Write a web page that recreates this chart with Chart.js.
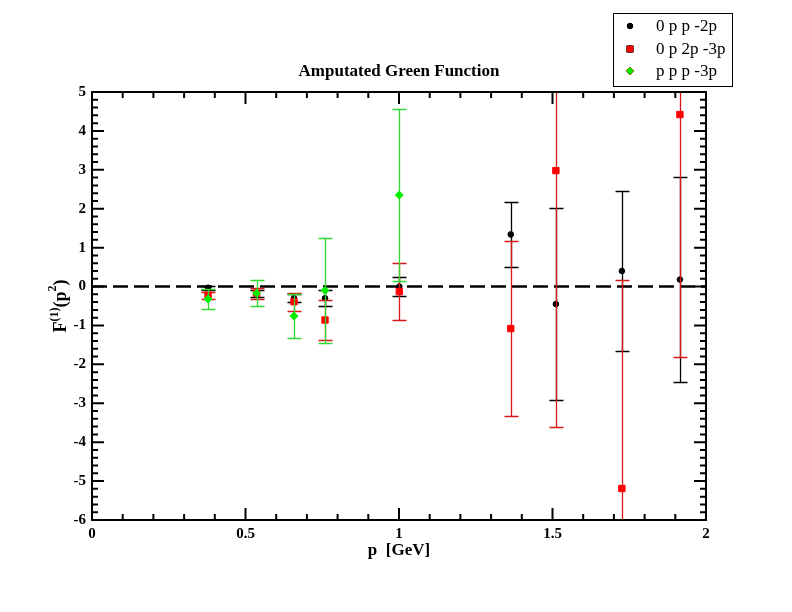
<!DOCTYPE html>
<html>
<head>
<meta charset="utf-8">
<script src="https://cdn.jsdelivr.net/npm/chart.js@4.4.0/dist/chart.umd.min.js"></script>
<style>
  html, body { margin: 0; padding: 0; background: #fff; }
</style>
</head>
<body>
<canvas id="mycanvas" width="792" height="612"></canvas>
<script>
// momenta (GeV)
var momenta = [0.378, 0.536, 0.658, 0.759, 1.001, 1.364, 1.511, 1.726, 1.915];

// 0 p p -2p
var ppTwo = [-0.03, -0.18, -0.30, -0.30, 0.00, 1.34, -0.45, 0.40, 0.18];
var ppTwoErr = [0.05, 0.08, 0.10, 0.20, 0.25, 0.83, 2.46, 2.06, 2.63];

// 0 p 2p -3p
var p2pThree = [-0.22, -0.17, -0.39, -0.86, -0.13, -1.08, 2.98, -5.19, 4.42];
var p2pThreeErr = [0.09, 0.14, 0.23, 0.51, 0.73, 2.24, 6.60, 5.35, 6.23];

// p p p -3p
var pppThree = [-0.32, -0.17, -0.76, -0.10, 2.35];
var pppThreeErr = [0.25, 0.34, 0.57, 1.36, 2.21];

var xTicks = [0, 0.5, 1, 1.5, 2];
var yTicks = [-6, -5, -4, -3, -2, -1, 0, 1, 2, 3, 4, 5];

var serif = '"Liberation Serif", "DejaVu Serif", serif';

function points(ys) {
  var out = [];
  for (var i in ys) {
    out.push({x: momenta[i], y: ys[i]});
  }
  return out;
}

// error bars, zero line, frame, ticks, legend, y title
var extras = {
  id: 'extras',
  beforeDatasetsDraw: function(chart) {
    var ctx = chart.ctx, a = chart.chartArea, y = chart.scales.y;
    var y0 = y.getPixelForValue(0);
    ctx.save();
    ctx.strokeStyle = '#000';
    ctx.lineWidth = 2.5;
    ctx.setLineDash([15, 6]);
    ctx.beginPath();
    ctx.moveTo(a.left, y0);
    ctx.lineTo(a.right, y0);
    ctx.stroke();
    ctx.restore();
  },
  beforeDatasetDraw: function(chart, args) {
    var ds = chart.data.datasets[args.index];
    if (!ds.err) return;
    var ctx = chart.ctx, a = chart.chartArea;
    var xs = chart.scales.x, ys = chart.scales.y;
    ctx.save();
    ctx.beginPath();
    ctx.rect(a.left, a.top, a.right - a.left, a.bottom - a.top);
    ctx.clip();
    ctx.strokeStyle = ds.errColor;
    ctx.lineWidth = 1.3;
    for (var i = 0; i < ds.data.length; i++) {
      // snap to pixel grid so overlapping bars cover each other cleanly
      var px = Math.round(xs.getPixelForValue(ds.data[i].x)) + 0.5;
      var hi = Math.round(ys.getPixelForValue(ds.data[i].y + ds.err[i])) + 0.5;
      var lo = Math.round(ys.getPixelForValue(ds.data[i].y - ds.err[i])) + 0.5;
      ctx.beginPath();
      ctx.moveTo(px, hi); ctx.lineTo(px, lo);
      ctx.moveTo(px - 7, hi); ctx.lineTo(px + 7, hi);
      ctx.moveTo(px - 7, lo); ctx.lineTo(px + 7, lo);
      ctx.stroke();
    }
    ctx.restore();
  },
  afterDraw: function(chart) {
    var ctx = chart.ctx, a = chart.chartArea;
    var xs = chart.scales.x, ys = chart.scales.y;
    ctx.save();
    ctx.strokeStyle = '#000';
    ctx.lineWidth = 2;
    ctx.strokeRect(a.left, a.top, a.right - a.left, a.bottom - a.top);

    // x ticks: major every 0.5, minor every 0.1
    ctx.beginPath();
    for (var i = 0; i <= 20; i++) {
      var px = xs.getPixelForValue(i * 0.1);
      var len = (i % 5 == 0) ? 12 : 6;
      ctx.moveTo(px, a.bottom); ctx.lineTo(px, a.bottom - len);
      ctx.moveTo(px, a.top); ctx.lineTo(px, a.top + len);
    }
    // y ticks: major every 1, minor every 0.2
    for (var k = 0; k <= 55; k++) {
      var py = ys.getPixelForValue(-6 + k * 0.2);
      var ln = (k % 5 == 0) ? 12 : 6;
      ctx.moveTo(a.left, py); ctx.lineTo(a.left + ln, py);
      ctx.moveTo(a.right, py); ctx.lineTo(a.right - ln, py);
    }
    ctx.stroke();

    // title
    ctx.fillStyle = '#000';
    ctx.font = 'bold 17px ' + serif;
    ctx.textAlign = 'center';
    ctx.textBaseline = 'middle';
    ctx.fillText('Amputated Green Function', (a.left + a.right) / 2, 72);

    // x title
    ctx.font = 'bold 17px ' + serif;
    ctx.fillText('p  [GeV]', (a.left + a.right) / 2, 551);

    // y title with superscripts
    ctx.save();
    ctx.translate(60, (a.top + a.bottom) / 2);
    ctx.rotate(-Math.PI / 2);
    var parts = [['F', 18, 0], ['(1)', 12, -8], ['(p', 18, 0], ['2', 12, -10], [')', 18, 0]];
    var total = 0;
    for (var j = 0; j < parts.length; j++) {
      ctx.font = 'bold ' + parts[j][1] + 'px ' + serif;
      total += ctx.measureText(parts[j][0]).width;
    }
    var cx = -total / 2;
    ctx.textAlign = 'left';
    ctx.textBaseline = 'alphabetic';
    for (var j = 0; j < parts.length; j++) {
      ctx.font = 'bold ' + parts[j][1] + 'px ' + serif;
      ctx.fillText(parts[j][0], cx, 6 + parts[j][2]);
      cx += ctx.measureText(parts[j][0]).width;
    }
    ctx.restore();

    // legend box
    ctx.lineWidth = 1;
    ctx.strokeRect(613.5, 13.5, 119, 73);
    ctx.font = '17px ' + serif;
    ctx.textAlign = 'left';
    ctx.textBaseline = 'middle';
    var rows = [26, 49, 71];
    chart.data.datasets.forEach(function(ds, n) {
      Chart.helpers.drawPoint(ctx, {
        pointStyle: ds.pointStyle,
        radius: ds.pointRadius,
        rotation: 0,
        borderWidth: 1
      }, 630, rows[n]);
      ctx.fillStyle = ds.backgroundColor;
      ctx.strokeStyle = ds.borderColor;
      ctx.fill();
      ctx.fillStyle = '#000';
      ctx.fillText(ds.label, 656, rows[n] + 1);
    });
    ctx.restore();
  }
};

// order: black drawn first, green last (on top)
var chartdata = {
  datasets: [
    {
      label: '0 p p -2p',
      data: points(ppTwo),
      err: ppTwoErr,
      errColor: '#000000',
      backgroundColor: '#000000',
      borderColor: '#000000',
      pointStyle: 'circle',
      pointRadius: 2.8,
      order: 3
    },
    {
      label: '0 p 2p -3p',
      data: points(p2pThree),
      err: p2pThreeErr,
      errColor: '#d81818',
      backgroundColor: '#ff0000',
      borderColor: '#ff0000',
      pointStyle: 'rect',
      pointRadius: 4.5,
      order: 2
    },
    {
      label: 'p p p -3p',
      data: points(pppThree),
      err: pppThreeErr,
      errColor: '#30d830',
      backgroundColor: '#00ee00',
      borderColor: '#00ee00',
      pointStyle: 'rectRot',
      pointRadius: 4,
      order: 1
    }
  ]
};

var ctx = document.getElementById('mycanvas');

var scatter = new Chart(ctx, {
  type: 'scatter',
  data: chartdata,
  plugins: [extras],
  options: {
    responsive: false,
    animation: false,
    devicePixelRatio: 1,
    layout: { padding: { left: 0, right: 86, top: 92, bottom: 0 } },
    plugins: { legend: { display: false }, tooltip: { enabled: false } },
    scales: {
      x: {
        type: 'linear',
        min: 0, max: 2,
        afterFit: function(s) { s.height = 92; },
        afterBuildTicks: function(s) { s.ticks = xTicks.map(function(v) { return {value: v}; }); },
        grid: { display: false, drawTicks: false },
        border: { display: false },
        ticks: {
          color: '#000',
          padding: 5,
          maxRotation: 0,
          font: { family: serif, size: 15, weight: 'bold' },
          callback: function(v) { return String(v); }
        }
      },
      y: {
        type: 'linear',
        min: -6, max: 5,
        afterFit: function(s) { s.width = 92; },
        afterBuildTicks: function(s) { s.ticks = yTicks.map(function(v) { return {value: v}; }); },
        grid: { display: false, drawTicks: false },
        border: { display: false },
        ticks: {
          color: '#000',
          padding: 6,
          font: { family: serif, size: 15, weight: 'bold' },
          callback: function(v) { return String(v); }
        }
      }
    }
  }
});
</script>
</body>
</html>
